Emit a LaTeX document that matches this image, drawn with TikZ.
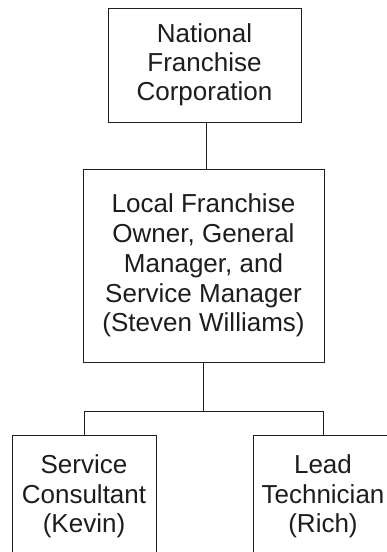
\documentclass[tikz,border=0pt]{standalone}
\usepackage{fontspec}
\setmainfont{Liberation Sans}
\definecolor{ink}{RGB}{30,28,29}
\begin{document}
\begin{tikzpicture}[x=1pt,y=-1pt,
  box/.style={draw=ink, line width=0.9pt, text=ink, align=center,
    font=\fontsize{26}{29.8}\selectfont, inner sep=0pt},
  link/.style={draw=ink, line width=0.9pt}]
\useasboundingbox (0,0) rectangle (386,552);
\node[box, font=\fontsize{26}{28.8}\selectfont, minimum width=193pt, minimum height=114pt] (nat) at (204.5,65)
  {National\\Franchise\\Corporation};
\node[box, minimum width=241pt, minimum height=193pt] (loc) at (203.5,265.5)
  {Local Franchise\\Owner, General\\Manager, and\\Service Manager\\(Steven Williams)};
\node[box, anchor=north, text width=144pt, inner xsep=0pt, inner ysep=19pt] (svc) at (84,435)
  {Service\\Consultant\\(Kevin)};
\node[box, anchor=north, text width=140pt, inner xsep=0pt, inner ysep=19pt] (tech) at (323,435)
  {Lead\\Technician\\(Rich)};
\coordinate (drop) at ([xshift=1.5pt]nat.south);
\coordinate (bus) at (203.5,411);
\draw[link] (drop) -- (drop |- loc.north);
\draw[link] (loc.south) -- (bus);
\draw[link] (bus) -| (svc.north);
\draw[link] (bus) -| (tech.north);
\end{tikzpicture}
\end{document}
